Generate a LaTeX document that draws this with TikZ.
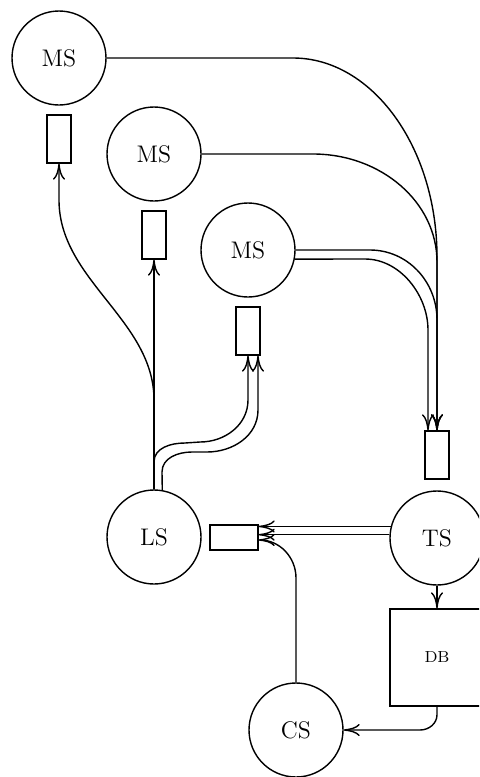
\documentclass[tikz,border=0pt]{standalone}
\usepackage{tikz}
\usetikzlibrary{arrows.meta, positioning, calc}
\tikzstyle{server} = [circle, draw, line width=0.7pt, minimum size=47pt, inner sep=0pt,
                      font=\fontsize{12}{14}\selectfont]
\tikzstyle{buffer} = [rectangle, draw, line width=0.7pt, minimum width=12pt, minimum height=24pt, inner sep=0pt]
\tikzstyle{hbuffer} = [buffer, minimum width=24pt, minimum height=12.5pt]
\tikzstyle{store} = [rectangle, draw, line width=0.7pt, minimum width=47pt, minimum height=48.5pt,
                     font=\fontsize{8}{9.6}\selectfont]
\tikzstyle{arrow} = [-{To[length=8pt, width=6pt]}, line width=0.7pt]

\begin{document}
\begin{tikzpicture}[x=0.5pt, y=-0.5pt]

\clip (0,0) rectangle (479,777);

% Servers
\node[server] (ms1) at (59,58) {MS};
\node[server] (ms2) at (154,154) {MS};
\node[server] (ms3) at (248,250) {MS};
\node[server] (ls) at (154,537) {LS};
\node[server] (ts) at (437,538) {TS};
\node[server] (cs) at (296,730) {CS};

% Buffers
\node[buffer] (buf1) at (59,139) {};
\node[buffer] (buf2) at (154,235) {};
\node[buffer] (buf3) at (248,331) {};
\node[buffer] (buf4) at (437,455) {};
\node[hbuffer] (buf5) at (234,537.5) {};

% Database
\node[store] (db) at (437,657.5) {DB};

% Arrows MS -> TS buffer
\draw[arrow] (ms1.east) -- (293,58) .. controls (372,58) and (437,147) .. (437,257) -- (buf4.north);
\draw[arrow] (ms2.east) -- (313,154) .. controls (381,154) and (437,202) .. (437,262) -- (buf4.north);
\draw[arrow] (ms3.east) -- (370,250) .. controls (407,250) and (437,281) .. (437,320) -- (buf4.north);
\draw[arrow] (ms3.-11) -- (365,259) .. controls (400,259) and (428,295) .. (428,330) -- ([xshift=-4.5pt]buf4.north);

% Arrows LS -> MS buffers
\draw[arrow] (ls.north) -- (154,400) .. controls (154,320) and (59,280) .. (59,200) -- (buf1.south);
\draw[arrow] (ls.north) -- (buf2.south);
\draw[arrow] (ls.north) -- (154,462) to[out=90, in=180] (185,443) -- (200,442)
    to[out=0, in=-90] (248,400) -- (buf3.south);
\draw[arrow] (ls.80) -- (162,472) to[out=90, in=180] (192,452) -- (207,452)
    to[out=0, in=-90] (258,410) -- ([xshift=5pt]buf3.south);

% Arrows TS, CS -> LS buffer
\draw[arrow] (ts.166) -- (ts.166 -| buf5.east);
\draw[arrow] (ts.176) -- (ts.176 -| buf5.east);
\draw[arrow] (cs.north) -- (296,578) to[out=90, in=0] ([yshift=-1.25pt]buf5.east);

% Arrows TS -> DB -> CS
\draw[arrow] (ts) -- (db);
\draw[arrow] (db.south) -- ++(0,8) to[out=-90, in=0] (420,730) -- (cs.east);

\end{tikzpicture}
\end{document}
